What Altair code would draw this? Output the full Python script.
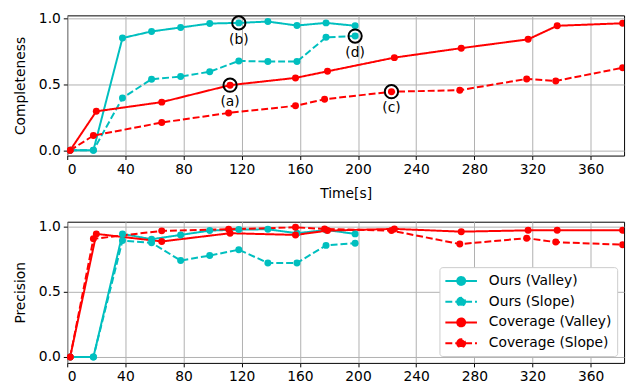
import altair as alt
import pandas as pd

series_names = ["Ours (Valley)", "Ours (Slope)", "Coverage (Valley)", "Coverage (Slope)"]
series_colors = ["#00bfbf", "#00bfbf", "#ff0000", "#ff0000"]
series_dashes = [[1, 0], [7, 3], [1, 0], [7, 3]]

t_ours = [2, 18, 38, 58, 78, 98, 118, 138, 158, 178, 198]
t_cov_valley = [2, 20, 65, 112, 157, 179, 225, 271, 317, 337, 382]
t_cov_slope = [2, 18, 65, 111, 157, 177, 223, 270, 316, 336, 382]

comp_ours_valley = [0, 0, 0.853, 0.903, 0.933, 0.963, 0.968, 0.978, 0.948, 0.968, 0.946]
comp_ours_slope = [0, 0, 0.398, 0.54, 0.56, 0.597, 0.679, 0.674, 0.674, 0.858, 0.868]
comp_cov_valley = [0, 0.296, 0.366, 0.495, 0.55, 0.6, 0.704, 0.776, 0.843, 0.946, 0.965]
comp_cov_slope = [0, 0.112, 0.211, 0.284, 0.338, 0.388, 0.445, 0.457, 0.542, 0.527, 0.627]

prec_ours_valley = [0, 0, 0.942, 0.901, 0.934, 0.967, 0.975, 0.977, 0.947, 0.972, 0.942]
prec_ours_slope = [0, 0, 0.891, 0.874, 0.738, 0.776, 0.821, 0.72, 0.72, 0.854, 0.871]
prec_cov_valley = [0, 0.942, 0.884, 0.947, 0.934, 0.967, 0.98, 0.959, 0.969, 0.969, 0.969]
prec_cov_slope = [0, 0.904, 0.965, 0.977, 0.992, 0.98, 0.967, 0.864, 0.909, 0.879, 0.859]

ann_labels = ["(a)", "(b)", "(c)", "(d)"]
ann_t = [112, 118, 223, 198]
ann_v = [0.495, 0.968, 0.445, 0.868]

x_ticks = [0, 40, 80, 120, 160, 200, 240, 280, 320, 360]
y_ticks = [0.0, 0.5, 1.0]


def build_df(lists):
    rows = []
    for name, (ts, vs) in zip(series_names, lists):
        for i, (t, v) in enumerate(zip(ts, vs)):
            rows.append({"t": t, "v": v, "series": name, "order": i})
    return pd.DataFrame(rows)


df_comp = build_df([(t_ours, comp_ours_valley), (t_ours, comp_ours_slope),
                    (t_cov_valley, comp_cov_valley), (t_cov_slope, comp_cov_slope)])
df_prec = build_df([(t_ours, prec_ours_valley), (t_ours, prec_ours_slope),
                    (t_cov_valley, prec_cov_valley), (t_cov_slope, prec_cov_slope)])
df_ann = pd.DataFrame({"t": ann_t, "v": ann_v, "label": ann_labels})

color_scale = alt.Scale(domain=series_names, range=series_colors)
dash_scale = alt.Scale(domain=series_names, range=series_dashes)
x_scale = alt.Scale(domain=[0, 383], nice=False, zero=False)

FS = 14

legend_path = "M-2,0L2,0M-0.5,0A0.5,0.5 0 1,1 0.5,0A0.5,0.5 0 1,1 -0.5,0"
legend = alt.Legend(
    title=None, orient="bottom-right", offset=7,
    symbolType=legend_path, symbolSize=256, symbolStrokeWidth=2,
    symbolOffset=8, labelOffset=19, padding=5, rowPadding=4,
    fillColor="white", strokeColor="#cccccc", cornerRadius=3,
    labelFontSize=FS, labelColor="black", labelFont="DejaVu Sans",
    symbolOpacity=1,
)


def panel(df, ytitle, ydomain, show_xtitle, show_legend):
    lg = legend if show_legend else None
    x_enc = alt.X("t:Q", scale=x_scale,
                  axis=alt.Axis(values=x_ticks, title="Time[s]" if show_xtitle else None,
                                titlePadding=10))
    y_enc = alt.Y("v:Q", scale=alt.Scale(domain=ydomain, nice=False, zero=False),
                  axis=alt.Axis(values=y_ticks, format=".1f", title=ytitle, titlePadding=11))
    lines = alt.Chart(df).mark_line(strokeWidth=2, clip=True).encode(
        x=x_enc, y=y_enc,
        color=alt.Color("series:N", scale=color_scale, legend=lg),
        strokeDash=alt.StrokeDash("series:N", scale=dash_scale, legend=lg),
        order="order:Q",
    )
    pts = alt.Chart(df).mark_circle(size=50, opacity=1, clip=True).encode(
        x="t:Q", y="v:Q",
        fill=alt.Fill("series:N", scale=color_scale, legend=lg),
    )
    return lines, pts


l1, p1 = panel(df_comp, "Completeness", [-0.04, 1.025], True, False)
ann_circles = alt.Chart(df_ann).mark_point(shape="circle", filled=False, size=180,
                                            stroke="black", strokeWidth=2, opacity=1).encode(
    x="t:Q", y="v:Q")
ann_text = alt.Chart(df_ann).mark_text(dy=17, fontSize=FS, color="black",
                                       font="DejaVu Sans").encode(
    x="t:Q", y="v:Q", text="label:N")
top = alt.layer(l1, p1, ann_circles, ann_text).properties(width=564, height=142)

l2, p2 = panel(df_prec, "Precision", [-0.045, 1.035], False, True)
bottom = alt.layer(l2, p2).properties(width=564, height=143)

chart = alt.vconcat(top, bottom, spacing=18).resolve_legend(
    color="independent", strokeDash="independent", fill="independent"
).properties(
    padding={"left": 5, "top": 0, "right": 5, "bottom": 5}
).configure(font="DejaVu Sans").configure_view(
    stroke="black", strokeWidth=1
).configure_axis(
    domain=False, grid=True, gridColor="#b0b0b0", gridWidth=1,
    tickColor="black", tickSize=4, tickWidth=1,
    labelFontSize=FS, labelColor="black", labelFont="DejaVu Sans", labelPadding=3,
    titleFontSize=FS, titleColor="black", titleFont="DejaVu Sans", titleFontWeight="normal",
)

chart.save("out.html", embed_options={"renderer": "svg", "actions": False})
